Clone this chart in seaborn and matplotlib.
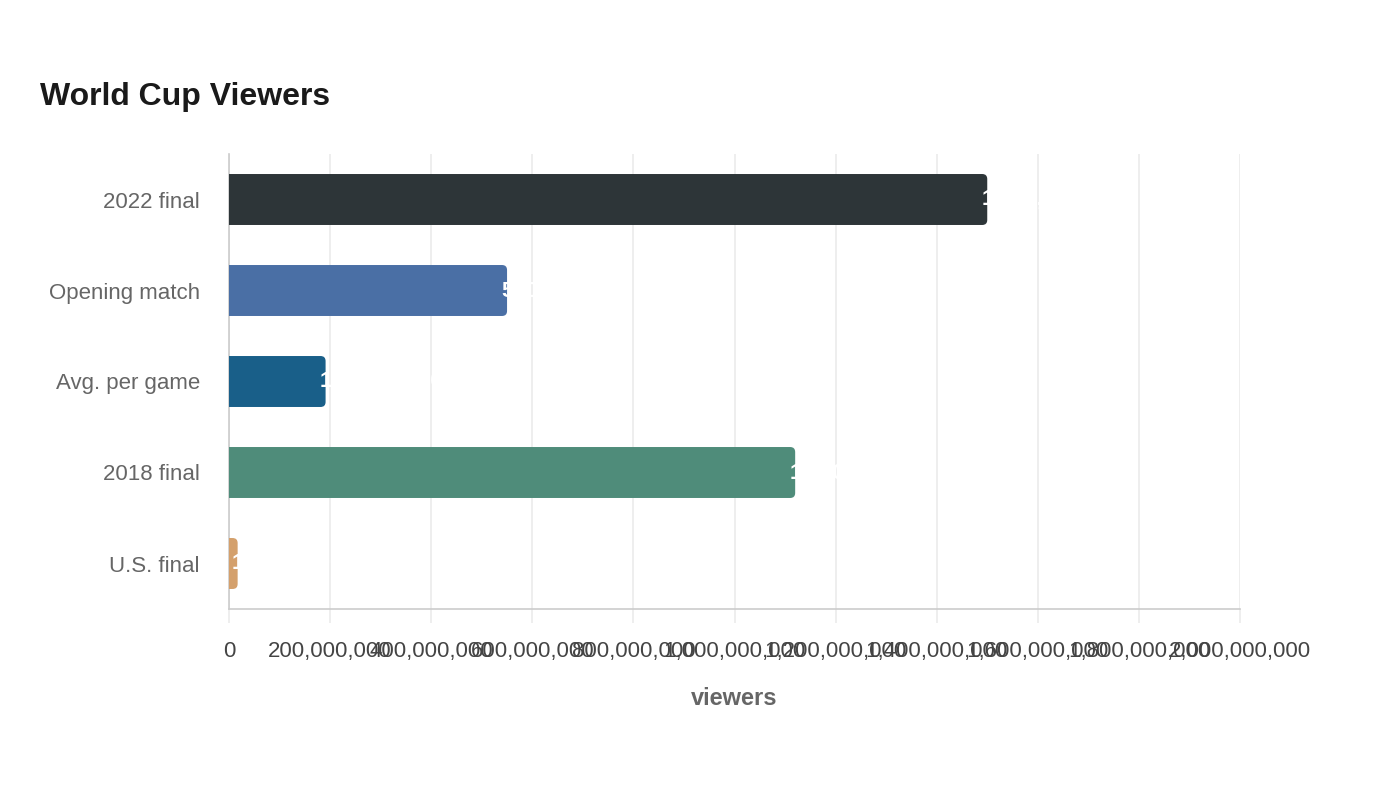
import matplotlib
matplotlib.use('Agg')
import matplotlib.pyplot as plt
import seaborn as sns
import pandas as pd
from matplotlib.patches import FancyBboxPatch
from matplotlib.ticker import FuncFormatter, MultipleLocator

categories = ['2022 final', 'Opening match', 'Avg. per game', '2018 final', 'U.S. final']
viewers = [1500000000, 550000000, 191000000, 1120000000, 17000000]
colors = ['#2d3538', '#4a6fa5', '#195f89', '#4f8c7a', '#d4a06c']

df = pd.DataFrame({'event': categories, 'viewers': viewers})

sns.set_theme(style='white')
plt.rcParams['font.family'] = ['Liberation Sans', 'DejaVu Sans']

fig = plt.figure(figsize=(14, 8), dpi=100)
ax = fig.add_axes([0.1636, 0.23875, 0.7221, 0.56875])

sns.barplot(data=df, x='viewers', y='event', hue='event', palette=colors,
            dodge=False, legend=False, width=0.56, saturation=1, ax=ax)

# swap plain bars for rounded ones (left edge hidden behind the axis)
r = 1.0e7
for p in list(ax.patches):
    x0, y0 = p.get_x(), p.get_y()
    w, h = p.get_width(), p.get_height()
    fc = p.get_facecolor()
    p.remove()
    ax.add_patch(FancyBboxPatch((x0 - r, y0), w + r, h,
                                boxstyle=f'round,pad=0,rounding_size={r}',
                                mutation_aspect=5.5e-9, fc=fc, ec='none', zorder=3))

for i, v in enumerate(viewers):
    ax.annotate(f'{v:,}', (v, i), xytext=(-4, 0), textcoords='offset points',
                ha='left', va='center', color='white', fontsize=16,
                fontweight='bold', zorder=4)

ax.set_xlim(0, 2000000000)
ax.set_ylim(4.5, -0.5)
ax.xaxis.set_major_locator(MultipleLocator(200000000))
ax.xaxis.set_major_formatter(FuncFormatter(lambda x, pos: f'{int(x):,}'))
ax.grid(axis='x', color='#ebebeb', linewidth=1.2, zorder=0)
ax.set_axisbelow(True)

for s in ['top', 'right']:
    ax.spines[s].set_visible(False)
ax.spines['left'].set_color('#cccccc')
ax.spines['bottom'].set_color('#cccccc')
ax.spines['left'].set_linewidth(1.2)
ax.spines['bottom'].set_linewidth(1.2)

ax.tick_params(axis='x', length=10, color='#ebebeb', width=1.2, pad=13,
               labelsize=16, labelcolor='#444444', bottom=True)
ax.tick_params(axis='y', length=0, pad=21, labelsize=16, labelcolor='#666666')

ax.set_ylabel('')
ax.set_xlabel('viewers', fontsize=17, fontweight='bold', color='#666666', labelpad=18)

fig.text(40 / 1400, 1 - 97 / 800, 'World Cup Viewers', fontsize=23,
         fontweight='bold', color='#1a1a1a', ha='left', va='center')

plt.savefig('out.png', dpi=100)
